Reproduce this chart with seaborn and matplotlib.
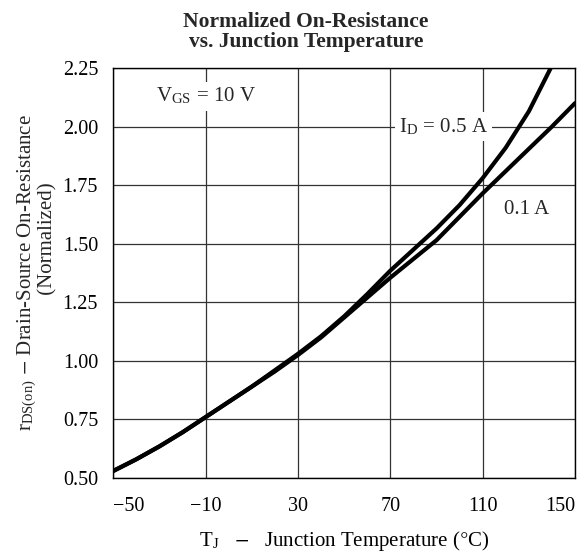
import pandas as pd
import matplotlib
matplotlib.use("Agg")
import matplotlib.pyplot as plt
import seaborn as sns

# values (T in degC, normalized rDS(on))
temp_05 = [-50, -40, -30, -20, -10, 0, 10, 20, 30, 40, 50, 60, 70, 80, 90, 100, 110, 120, 130, 140]
rds_05 = [0.53, 0.58, 0.635, 0.695, 0.76, 0.825, 0.89, 0.96, 1.03, 1.105, 1.19, 1.285,
          1.385, 1.475, 1.565, 1.665, 1.78, 1.91, 2.065, 2.26]

temp_01 = [-50, -40, -30, -20, -10, 0, 10, 20, 30, 40, 50, 60, 70, 80, 90, 100, 110, 120, 130, 140, 150]
rds_01 = [0.53, 0.58, 0.635, 0.695, 0.76, 0.825, 0.89, 0.955, 1.025, 1.10, 1.185, 1.27,
          1.355, 1.435, 1.515, 1.615, 1.715, 1.81, 1.905, 2.00, 2.10]

x_ticks = [-50, -10, 30, 70, 110, 150]
y_ticks = [0.50, 0.75, 1.00, 1.25, 1.50, 1.75, 2.00, 2.25]

df = pd.concat([
    pd.DataFrame({'temp': temp_05, 'rds': rds_05, 'id': '0.5 A'}),
    pd.DataFrame({'temp': temp_01, 'rds': rds_01, 'id': '0.1 A'}),
])

sns.set_theme(style="white")
plt.rcParams['font.family'] = ['Liberation Serif', 'DejaVu Serif']
plt.rcParams['mathtext.fontset'] = 'stix'

fig = plt.figure(figsize=(5.87, 5.58), dpi=100)
ax = fig.add_axes([0.193, 0.1434, 0.7866, 0.7347])

sns.lineplot(data=df, x='temp', y='rds', hue='id', palette=['black', 'black'],
             linewidth=3.0, legend=False, ax=ax, sort=True, zorder=3)

ax.set_xlim(-50, 150)
ax.set_ylim(0.5, 2.25)
ax.set_xticks(x_ticks)
ax.set_yticks(y_ticks)
ax.set_xticklabels([f'{t:d}'.replace('-', '\u2212') for t in x_ticks])
ax.set_yticklabels([f'{v:.2f}' for v in y_ticks])
ax.tick_params(length=0, labelsize=14.5, colors='black')
ax.tick_params(axis='x', pad=14)
ax.tick_params(axis='y', pad=11)
# end labels pulled inside so they stay on the canvas
ax.get_xticklabels()[0].set_horizontalalignment('left')
ax.get_xticklabels()[-1].set_horizontalalignment('right')
ax.grid(True, color='#333333', linewidth=0.9)
for s in ax.spines.values():
    s.set_color('black')
    s.set_linewidth(1.0)

ax.set_xlabel(r'T$_\mathregular{J}$   $-$   Junction Temperature ($\degree$C)', fontsize=15,
              color='black', labelpad=9)
ax.set_ylabel('')
fig.text(0.062, 0.512,
         r'r$_\mathregular{DS(on)}$ $-$ Drain-Source On-Resistance' + '\n' + ' ' * 13 + '(Normalized)',
         rotation=90, ha='center', va='center', fontsize=15, linespacing=0.9,
         multialignment='center')

fig.text(0.5215, 0.978, 'Normalized On-Resistance\nvs. Junction Temperature',
         ha='center', va='top', fontsize=15.5, fontweight='bold', linespacing=1.0)

box = dict(facecolor='white', edgecolor='none', pad=3)
ax.text(-10, 2.13, r'V$_\mathregular{GS}$ = 10 V', ha='center', va='center',
        fontsize=15, bbox=box, zorder=4)
ax.text(93, 2.0, r'I$_\mathregular{D}$ = 0.5 A', ha='center', va='center',
        fontsize=15, bbox=box, zorder=4)
ax.text(129, 1.645, '0.1 A', ha='center', va='center', fontsize=15, zorder=4)

fig.savefig('out.png', dpi=100)
